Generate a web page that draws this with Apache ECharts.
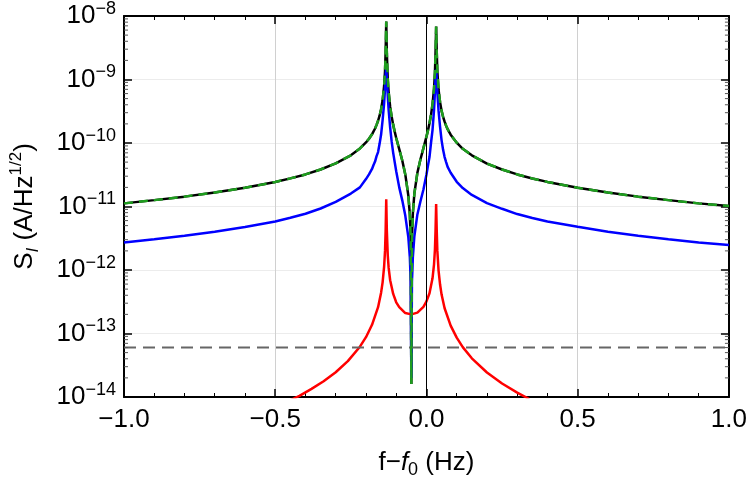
<!DOCTYPE html>
<html>
<head>
<meta charset="utf-8">
<title>S_I noise spectrum</title>
<script src="https://cdn.jsdelivr.net/npm/echarts@6/dist/echarts.min.js"></script>
<style>
    html, body { margin: 0; padding: 0; background: #fff; }
    #noiseSpectrum { width: 750px; height: 484px; }
</style>
</head>
<body>
<div id="noiseSpectrum"></div>
<script>
/*************************** data ***************************/

// f - f0 (Hz), shared by the black, green and blue curves
var freqOffset = [
    -1, -0.9, -0.8, -0.7, -0.6, -0.5, -0.45, -0.4, -0.35, -0.3, -0.25, -0.22,
    -0.2, -0.19, -0.18, -0.175, -0.17, -0.165, -0.16, -0.155, -0.15, -0.145, -0.14, -0.137, -0.135,
    -0.133, -0.131, -0.128, -0.125, -0.12, -0.115, -0.11, -0.105, -0.1, -0.09, -0.08, -0.07,
    -0.06, -0.055, -0.052, -0.05, -0.048, -0.045, -0.04, -0.03, -0.02, -0.01,
    0, 0.005, 0.01, 0.015, 0.02, 0.025, 0.028, 0.03, 0.032, 0.034, 0.036, 0.04, 0.045, 0.05,
    0.055, 0.06, 0.065, 0.07, 0.08, 0.1, 0.12, 0.15, 0.2, 0.25, 0.3, 0.35, 0.4, 0.5, 0.6,
    0.7, 0.8, 0.9, 1
];

// total (black solid)
var totalNoise = [
    1.12e-11, 1.26e-11, 1.43e-11, 1.66e-11, 1.97e-11, 2.43e-11, 2.77e-11, 3.2e-11, 3.83e-11, 4.78e-11, 6.4e-11, 8.2e-11,
    1.02e-10, 1.17e-10, 1.37e-10, 1.52e-10, 1.69e-10, 1.93e-10, 2.24e-10, 2.69e-10, 3.4e-10, 4.7e-10, 7.9e-10, 1.36e-9, 2.7e-9,
    8.2e-9, 2.6e-9, 1.03e-9, 6.3e-10, 3.7e-10, 2.59e-10, 1.93e-10, 1.51e-10, 1.2e-10, 8.0e-11, 5.3e-11, 3.2e-11,
    1.5e-11, 7.5e-12, 3.1e-12, 1.6e-14, 3.1e-12, 7.8e-12, 1.6e-11, 3.4e-11, 5.5e-11, 8.3e-11,
    1.26e-10, 1.58e-10, 2.04e-10, 2.76e-10, 4.07e-10, 7.2e-10, 1.29e-9, 2.6e-9, 6.8e-9, 2.7e-9, 1.36e-9, 6.9e-10, 4.4e-10, 3.2e-10,
    2.59e-10, 2.17e-10, 1.87e-10, 1.65e-10, 1.35e-10, 1.01e-10, 8.1e-11, 6.4e-11, 4.74e-11, 3.83e-11, 3.2e-11, 2.76e-11, 2.44e-11, 1.97e-11, 1.66e-11,
    1.43e-11, 1.26e-11, 1.12e-11, 1.02e-11
];

// model (green dashed), lies on top of the total
var modelNoise = totalNoise.slice();

// blue solid
var blueNoise = [
    2.72e-12, 3.05e-12, 3.45e-12, 4.0e-12, 4.75e-12, 5.8e-12, 6.65e-12, 7.7e-12, 9.3e-12, 1.18e-11, 1.6e-11, 2.0e-11,
    2.7e-11, 3.2e-11, 3.9e-11, 4.5e-11, 5.1e-11, 6.2e-11, 7.2e-11, 9.7e-11, 1.36e-10, 2.3e-10, 4.2e-10, 7.2e-10, 1.1e-9,
    1.5e-9, 1.1e-9, 5.5e-10, 3.3e-10, 1.75e-10, 1.05e-10, 7.0e-11, 5.0e-11, 3.6e-11, 2.0e-11, 1.25e-11, 7.2e-12,
    3.3e-12, 1.6e-12, 6.5e-13, 2.0e-14, 6.5e-13, 1.6e-12, 3.4e-12, 7.5e-12, 1.2e-11, 1.85e-11,
    3.2e-11, 4.4e-11, 6.0e-11, 1.0e-10, 1.6e-10, 3.3e-10, 6.3e-10, 1.05e-9, 1.43e-9, 1.05e-9, 6.3e-10, 3.2e-10, 1.8e-10, 1.1e-10,
    7.8e-11, 6.0e-11, 5.0e-11, 4.2e-11, 3.4e-11, 2.45e-11, 1.95e-11, 1.52e-11, 1.13e-11, 9.2e-12, 7.6e-12, 6.6e-12, 5.8e-12, 4.8e-12, 4.0e-12,
    3.45e-12, 3.05e-12, 2.72e-12, 2.47e-12
];

// red solid
var redFreq = [
    -0.45, -0.42, -0.38, -0.34, -0.3, -0.26, -0.22, -0.2, -0.18, -0.16, -0.15, -0.145,
    -0.14, -0.137, -0.135, -0.133, -0.131, -0.128, -0.125, -0.12, -0.11, -0.1, -0.09,
    -0.07, -0.05, -0.03, -0.01, 0, 0.01, 0.02, 0.025, 0.028, 0.03, 0.032, 0.034, 0.036,
    0.04, 0.045, 0.05, 0.06, 0.08, 0.1, 0.12, 0.15, 0.2, 0.25, 0.3, 0.34
];
var redNoise = [
    8.9e-15, 1.04e-14, 1.34e-14, 1.77e-14, 2.45e-14, 3.67e-14, 6.2e-14, 8.75e-14, 1.37e-13, 2.6e-13, 4.4e-13, 6.4e-13,
    1.13e-12, 2.0e-12, 4.1e-12, 1.3e-11, 4.2e-12, 1.7e-12, 1.08e-12, 6.9e-13, 4.2e-13, 3.1e-13, 2.6e-13,
    2.1e-13, 2.0e-13, 2.13e-13, 2.63e-13, 3.2e-13, 4.3e-13, 7.4e-13, 1.23e-12, 2.1e-12, 4.2e-12, 1.09e-11, 4.1e-12, 2.0e-12,
    9.8e-13, 5.9e-13, 4.1e-13, 2.5e-13, 1.33e-13, 8.6e-14, 6.1e-14, 4.07e-14, 2.43e-14, 1.63e-14, 1.17e-14, 9.3e-15
];

// gray dashed floor
var floorFreq = [-1, 1];
var floorNoise = [6e-14, 6e-14];

// log axis minor ticks (2..9 in every decade)
var decadeStarts = [1e-14, 1e-13, 1e-12, 1e-11, 1e-10, 1e-9];
var minorSteps = [2, 3, 4, 5, 6, 7, 8, 9];

/******************************************************************************/

var FONT = '"Liberation Sans", Arial, sans-serif';

function toPoints(xs, ys) {
    return xs.map(function (x, i) {
        return [x, ys[i]];
    });
}

function minorTickPoints() {
    var points = [];
    decadeStarts.forEach(function (d) {
        minorSteps.forEach(function (m) {
            points.push([-1, d * m]);
        });
    });
    return points;
}

function renderMinorTick(params, api) {
    var v = api.value(1);
    var left = api.coord([-1, v]);
    var right = api.coord([1, v]);
    var style = {stroke: '#555', lineWidth: 1};
    return {
        type: 'group',
        children: [
            {type: 'line', shape: {x1: left[0], y1: left[1], x2: left[0] + 4, y2: left[1]}, style: style},
            {type: 'line', shape: {x1: right[0] - 4, y1: right[1], x2: right[0], y2: right[1]}, style: style}
        ]
    };
}

function freqLabel(v) {
    return (v < 0 ? '\u2212' : '') + Math.abs(v).toFixed(1);
}

function powerLabel(v) {
    var e = Math.round(Math.log10(v));
    return '{b|10}{s|\u2212' + (-e) + '}';
}

function xAxisOf(position, showLabels) {
    return {
        type: 'value',
        position: position,
        min: -1,
        max: 1,
        interval: 0.5,
        axisLine: {show: true, onZero: false, lineStyle: {color: '#000', width: 2}},
        axisTick: {show: true, inside: true, length: 8, lineStyle: {color: '#000', width: 1.5}},
        minorTick: {show: true, splitNumber: 5, length: 4, lineStyle: {color: '#000', width: 1}},
        axisLabel: {show: showLabels, fontSize: 26, color: '#000', fontFamily: FONT, margin: 10, formatter: freqLabel},
        splitLine: {show: showLabels, lineStyle: {color: '#d0d0d0', width: 1}},
        minorSplitLine: {show: false}
    };
}

function yAxisOf(position, showLabels) {
    return {
        type: 'log',
        logBase: 10,
        position: position,
        min: 1e-14,
        max: 1e-8,
        splitNumber: 6,
        axisLine: {show: true, onZero: false, lineStyle: {color: '#000', width: 2}},
        axisTick: {show: true, inside: true, length: 8, lineStyle: {color: '#000', width: 1.5}},
        axisLabel: {
            show: showLabels,
            color: '#000',
            margin: 8,
            formatter: powerLabel,
            rich: {
                b: {fontSize: 26, fontFamily: FONT, lineHeight: 32, color: '#000'},
                s: {fontSize: 18, fontFamily: FONT, lineHeight: 18, verticalAlign: 'top', color: '#000'}
            }
        },
        splitLine: {show: showLabels, lineStyle: {color: '#ececec', width: 1}}
    };
}

function noiseSpectrumChart() {
    var myChart = echarts.init(document.getElementById('noiseSpectrum'), null, {renderer: 'canvas'});

    var bottomX = xAxisOf('bottom', true);
    bottomX.name = '{n|f\u2212}{i|f}{sub|0}{n| (Hz)}';
    bottomX.nameLocation = 'middle';
    bottomX.nameGap = 50;
    bottomX.nameTextStyle = {
        rich: {
            n: {fontSize: 26, fontFamily: FONT, lineHeight: 32, color: '#000'},
            i: {fontSize: 26, fontFamily: FONT, fontStyle: 'italic', lineHeight: 32, color: '#000'},
            sub: {fontSize: 18, fontFamily: FONT, lineHeight: 18, verticalAlign: 'bottom', color: '#000'}
        }
    };

    var leftY = yAxisOf('left', true);
    leftY.name = '{n|S}{sub|I}{n| (A/Hz}{sup|1/2}{n|)}';
    leftY.nameLocation = 'middle';
    leftY.nameGap = 82;
    leftY.nameTextStyle = {
        rich: {
            n: {fontSize: 26, fontFamily: FONT, lineHeight: 34, color: '#000'},
            sub: {fontSize: 17, fontFamily: FONT, fontStyle: 'italic', lineHeight: 17, verticalAlign: 'bottom', color: '#000'},
            sup: {fontSize: 17, fontFamily: FONT, lineHeight: 17, verticalAlign: 'top', color: '#000'}
        }
    };

    var option = {
        animation: false,
        backgroundColor: '#fff',
        grid: {left: 116, right: 19, top: 16, bottom: 87, containLabel: false},
        xAxis: [bottomX, xAxisOf('top', false)],
        yAxis: [leftY, yAxisOf('right', false)],
        series: [
            {
                name: 'total',
                type: 'line',
                data: toPoints(freqOffset, totalNoise),
                showSymbol: false,
                lineStyle: {color: '#000', width: 2.5},
                z: 2,
                markLine: {
                    silent: true,
                    symbol: ['none', 'none'],
                    label: {show: false},
                    lineStyle: {color: '#000', width: 1, type: 'solid'},
                    data: [{xAxis: 0}]
                }
            },
            {
                name: 'blue',
                type: 'line',
                data: toPoints(freqOffset, blueNoise),
                showSymbol: false,
                lineStyle: {color: '#0000ff', width: 2.5},
                z: 3
            },
            {
                name: 'red',
                type: 'line',
                data: toPoints(redFreq, redNoise),
                showSymbol: false,
                lineStyle: {color: '#ff0000', width: 2.5},
                z: 3
            },
            {
                name: 'floor',
                type: 'line',
                data: toPoints(floorFreq, floorNoise),
                showSymbol: false,
                lineStyle: {color: '#666', width: 2, type: [12, 7]},
                z: 4
            },
            {
                name: 'model',
                type: 'line',
                data: toPoints(freqOffset, modelNoise),
                showSymbol: false,
                lineStyle: {color: '#1e9e1e', width: 2.5, type: [9, 6]},
                z: 5
            },
            {
                name: 'minorTicks',
                type: 'custom',
                silent: true,
                data: minorTickPoints(),
                encode: {x: 0, y: 1},
                renderItem: renderMinorTick,
                z: 6
            }
        ]
    };
    myChart.setOption(option, true);
    window.addEventListener('resize', function () {
        myChart.resize();
    });
}

noiseSpectrumChart();
</script>
</body>
</html>
